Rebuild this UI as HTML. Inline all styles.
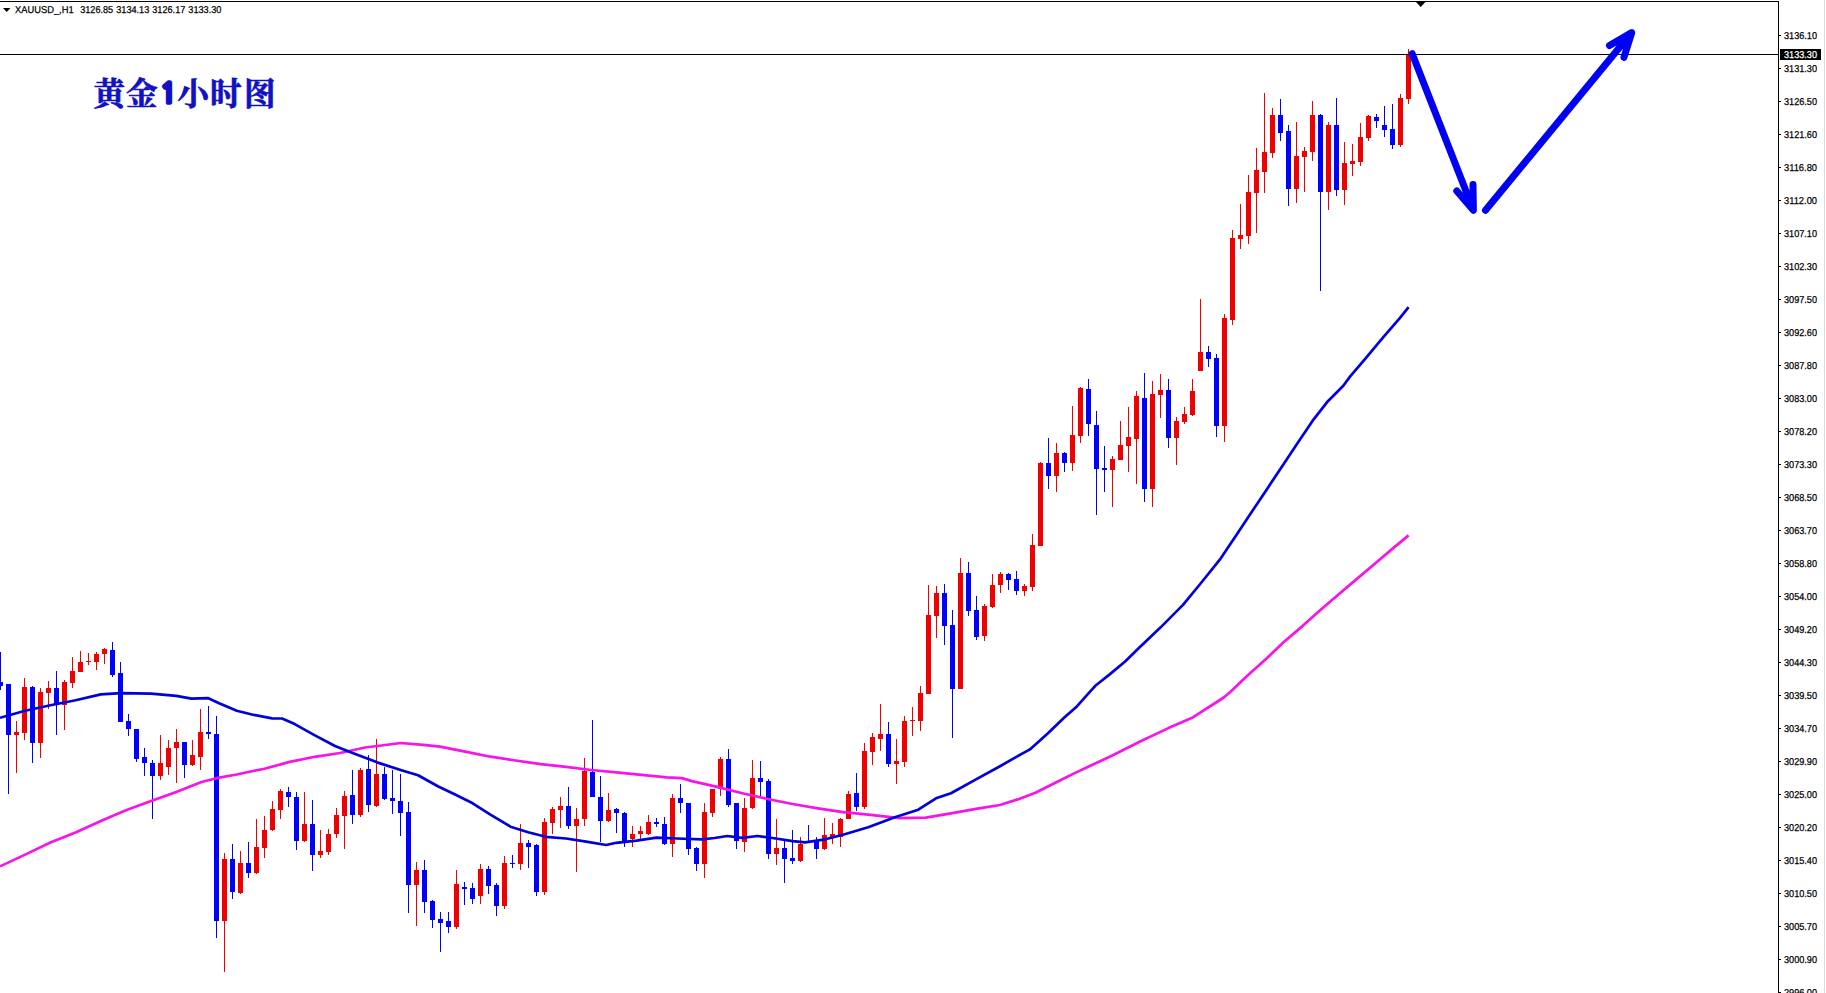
<!DOCTYPE html>
<html lang="zh"><head><meta charset="utf-8"><title>XAUUSD H1</title>
<style>html,body{margin:0;padding:0;background:#fff;overflow:hidden}svg{display:block}</style></head>
<body><svg width="1826" height="993" viewBox="0 0 1826 993">
<rect width="1826" height="993" fill="#fff"/>
<g shape-rendering="crispEdges">
<path d="M16.5 721V773M24.5 678V740M40.5 688V758M48.5 681V709M64.5 680V730M72.5 657V688M80.5 651V672M88.5 653V665M96.5 652V670M104.5 648V664M160.5 735V780M168.5 740V775M176.5 729V783M192.5 740V766M200.5 709V770M224.5 853V972M240.5 851V894M256.5 819V874M264.5 816V858M272.5 801V831M280.5 789V819M304.5 792V842M320.5 830V858M328.5 829V855M336.5 808V838M344.5 791V849M360.5 768V817M376.5 739V807M416.5 862V926M456.5 870V929M480.5 864V904M504.5 856V909M520.5 824V870M544.5 818V895M552.5 807V834M560.5 797V828M576.5 808V872M584.5 758V826M608.5 793V822M632.5 826V847M640.5 826V839M648.5 815V835M672.5 794V857M704.5 803V878M712.5 789V817M720.5 757V796M744.5 798V852M752.5 760V809M776.5 819V865M800.5 837V862M824.5 818V850M832.5 823V844M840.5 818V847M848.5 791V819M864.5 743V809M872.5 733V765M880.5 704V751M896.5 739V784M904.5 716V767M912.5 707V736M920.5 686V731M928.5 585V694M936.5 586V638M960.5 558V689M984.5 604V641M992.5 574V608M1000.5 572V593M1024.5 584V596M1032.5 534V591M1040.5 462V546M1056.5 443V492M1072.5 406V471M1080.5 387V443M1112.5 456V507M1120.5 421V460M1128.5 407V472M1136.5 391V484M1152.5 381V507M1160.5 374V418M1176.5 417V465M1184.5 407V424M1192.5 379V416M1200.5 299V371M1224.5 314V442M1232.5 230V325M1240.5 204V249M1248.5 175V244M1256.5 148V233M1264.5 93V193M1272.5 108V158M1296.5 122V203M1304.5 147V192M1312.5 101V161M1328.5 122V210M1344.5 142V205M1352.5 144V176M1360.5 123V166M1368.5 115V141M1400.5 94V147M1408.5 49V104" stroke="#f00000" stroke-width="1" fill="none"/>
<path d="M14 732h5V735h-5zM22 687h5V733h-5zM38 692h5V743h-5zM46 688h5V693h-5zM62 682h5V705h-5zM70 671h5V683h-5zM78 662h5V672h-5zM86 661h5V662h-5zM94 654h5V662h-5zM102 649h5V654h-5zM158 763h5V776h-5zM166 748h5V767h-5zM174 742h5V748h-5zM190 755h5V765h-5zM198 732h5V757h-5zM222 859h5V921h-5zM238 863h5V893h-5zM254 847h5V873h-5zM262 830h5V848h-5zM270 809h5V830h-5zM278 791h5V810h-5zM302 824h5V841h-5zM318 851h5V855h-5zM326 834h5V852h-5zM334 815h5V834h-5zM342 796h5V816h-5zM358 770h5V815h-5zM374 774h5V806h-5zM414 870h5V885h-5zM454 884h5V927h-5zM478 869h5V896h-5zM502 863h5V906h-5zM518 843h5V864h-5zM542 822h5V892h-5zM550 809h5V823h-5zM558 806h5V810h-5zM574 819h5V826h-5zM582 771h5V819h-5zM606 810h5V821h-5zM630 834h5V839h-5zM638 831h5V834h-5zM646 822h5V834h-5zM670 798h5V844h-5zM702 812h5V864h-5zM710 789h5V813h-5zM718 759h5V789h-5zM742 808h5V842h-5zM750 778h5V808h-5zM774 848h5V854h-5zM798 844h5V861h-5zM822 835h5V849h-5zM830 834h5V837h-5zM838 819h5V837h-5zM846 794h5V819h-5zM862 751h5V807h-5zM870 737h5V752h-5zM878 734h5V739h-5zM894 761h5V764h-5zM902 721h5V762h-5zM910 720h5V721h-5zM918 693h5V721h-5zM926 615h5V694h-5zM934 593h5V616h-5zM958 573h5V689h-5zM982 606h5V636h-5zM990 585h5V607h-5zM998 574h5V585h-5zM1022 586h5V591h-5zM1030 545h5V587h-5zM1038 463h5V546h-5zM1054 453h5V476h-5zM1070 435h5V463h-5zM1078 388h5V436h-5zM1110 459h5V470h-5zM1118 445h5V460h-5zM1126 437h5V446h-5zM1134 396h5V439h-5zM1150 394h5V489h-5zM1158 390h5V395h-5zM1174 421h5V438h-5zM1182 414h5V422h-5zM1190 391h5V415h-5zM1198 352h5V371h-5zM1222 318h5V426h-5zM1230 238h5V320h-5zM1238 235h5V239h-5zM1246 192h5V236h-5zM1254 170h5V193h-5zM1262 152h5V172h-5zM1270 115h5V153h-5zM1294 156h5V189h-5zM1302 151h5V157h-5zM1310 115h5V152h-5zM1326 125h5V192h-5zM1342 163h5V190h-5zM1350 161h5V164h-5zM1358 137h5V162h-5zM1366 116h5V138h-5zM1398 98h5V145h-5zM1406 54h5V99h-5z" fill="#f00000"/>
<path d="M0.5 652V690M8.5 684V794M32.5 686V763M56.5 671V735M112.5 642V677M120.5 662V722M128.5 714V736M136.5 729V762M144.5 748V776M152.5 760V819M184.5 742V778M208.5 706V739M216.5 716V938M232.5 844V899M248.5 842V878M288.5 787V807M296.5 792V850M312.5 800V871M352.5 770V824M368.5 755V812M384.5 767V800M392.5 770V814M400.5 774V836M408.5 802V913M424.5 860V913M432.5 900V928M440.5 912V952M448.5 912V933M464.5 882V905M472.5 883V904M488.5 866V894M496.5 883V916M512.5 855V868M528.5 840V868M536.5 844V896M568.5 787V829M592.5 720V797M600.5 776V842M616.5 808V833M624.5 812V847M656.5 818V827M664.5 817V845M680.5 784V813M688.5 803V855M696.5 847V871M728.5 749V807M736.5 803V849M760.5 761V796M768.5 779V859M784.5 839V883M792.5 830V864M808.5 825V843M816.5 837V859M856.5 773V811M888.5 722V767M944.5 584V645M952.5 610V738M968.5 562V616M976.5 596V640M1008.5 573V590M1016.5 571V595M1048.5 438V489M1064.5 452V472M1088.5 379V436M1096.5 411V515M1104.5 446V492M1144.5 373V502M1168.5 379V448M1208.5 346V367M1216.5 354V437M1280.5 99V141M1288.5 125V206M1320.5 114V291M1336.5 98V196M1376.5 114V128M1384.5 106V137M1392.5 104V149" stroke="#0000ff" stroke-width="1" fill="none"/>
<path d="M-2 682h5V686h-5zM6 684h5V735h-5zM30 687h5V743h-5zM54 688h5V704h-5zM110 650h5V675h-5zM118 673h5V722h-5zM126 721h5V729h-5zM134 729h5V759h-5zM142 757h5V763h-5zM150 763h5V776h-5zM182 742h5V765h-5zM206 732h5V734h-5zM214 734h5V921h-5zM230 859h5V892h-5zM246 863h5V873h-5zM286 792h5V797h-5zM294 797h5V841h-5zM310 824h5V855h-5zM350 795h5V815h-5zM366 769h5V805h-5zM382 774h5V799h-5zM390 798h5V801h-5zM398 801h5V813h-5zM406 812h5V885h-5zM422 870h5V902h-5zM430 901h5V920h-5zM438 919h5V923h-5zM446 921h5V927h-5zM462 887h5V889h-5zM470 888h5V899h-5zM486 869h5V886h-5zM494 885h5V906h-5zM510 863h5V864h-5zM526 843h5V847h-5zM534 845h5V892h-5zM566 806h5V826h-5zM590 772h5V797h-5zM598 797h5V821h-5zM614 809h5V813h-5zM622 813h5V843h-5zM654 822h5V824h-5zM662 824h5V844h-5zM678 798h5V803h-5zM686 803h5V849h-5zM694 848h5V864h-5zM726 759h5V805h-5zM734 803h5V841h-5zM758 778h5V782h-5zM766 781h5V854h-5zM782 848h5V859h-5zM790 858h5V861h-5zM806 841h5V843h-5zM814 841h5V849h-5zM854 793h5V807h-5zM886 734h5V764h-5zM942 593h5V626h-5zM950 625h5V689h-5zM966 573h5V611h-5zM974 610h5V637h-5zM1006 574h5V580h-5zM1014 579h5V591h-5zM1046 463h5V476h-5zM1062 453h5V463h-5zM1086 389h5V424h-5zM1094 425h5V469h-5zM1102 468h5V470h-5zM1142 398h5V489h-5zM1166 390h5V438h-5zM1206 352h5V359h-5zM1214 358h5V426h-5zM1278 115h5V133h-5zM1286 131h5V189h-5zM1318 115h5V192h-5zM1334 125h5V190h-5zM1374 117h5V121h-5zM1382 125h5V130h-5zM1390 129h5V145h-5z" fill="#0000ff"/>
</g>
<polyline points="0,866.4 25.2,854.6 50.4,842.5 75.6,832.4 100.8,821.1 125.9,810.2 151.1,800.9 176.3,792.1 201.5,782 216.6,778.2 236.8,774.5 264.5,768.7 289.7,761.9 314.9,756.8 340,753 365.2,747.5 385.4,745 400.5,743 423.2,744.8 440,746.6 465.2,751.6 490.4,756.7 515.6,760.5 540.8,764.2 566,766.8 591.1,770 616.3,772.3 641.5,774.8 666.7,777.3 681.8,778.1 691.9,781.1 717.1,786.9 742.3,793.2 767.5,799 792.6,804 817.8,808.3 843,812.1 868.2,814.6 900,818.2 925.8,817.7 951,813.4 976,808.9 1000,805 1017.7,799.4 1035.5,792.8 1055.4,782.8 1073.1,773.9 1090.9,765.5 1110.8,756.2 1139.6,741.8 1168.4,728.1 1192.8,717.4 1223.8,697.5 1230,692.3 1248.1,675 1266.3,658.7 1284.4,641.5 1302.5,626.1 1320.7,609.8 1338.8,594.3 1356.9,578.9 1375.1,563.5 1393.2,548.1 1408.6,535.4" fill="none" stroke="#f614e6" stroke-width="2.7" stroke-linejoin="round"/>
<polyline points="0,717.8 25.2,710.7 50.4,705.2 75.6,700.2 100.8,694.4 120.9,693.1 151.1,693.7 176.3,695.9 191.4,698.7 207.8,698.1 219.1,703.2 236.8,710.7 251.9,714.5 272,718.3 282.1,718.5 294.7,724.1 314.9,735.4 335,746 352.6,753 377.8,762.6 403,770.7 418.1,775.2 438.3,786.5 455.1,794.5 472.7,803.3 490.4,814.6 510.5,826.7 528.2,832.2 545.8,836.8 566,838.5 586.1,841.6 606.2,845 616.3,842.8 636.5,840.6 656.6,837.6 676.8,838.5 702,839.3 714.6,838 727.2,836 742.3,837.8 757.4,836 772.5,838 792.6,841.1 805.2,842.3 825.4,839.3 843,834.8 868.2,827.2 895.6,817 918.3,809.7 936,798.3 951,793.3 976,779.4 1000,766.2 1015.5,757.3 1029.9,749.4 1047.7,733.5 1064.3,717.5 1076,707.3 1088.7,693.1 1095.3,685.8 1101.3,681 1110,674.1 1125.1,661.5 1140.2,646.7 1160.4,627.6 1183,604.9 1200.6,583.5 1220.8,558.3 1235.9,535.7 1251,513 1266.1,490.4 1281.2,467.7 1298.8,441.2 1312.5,420.9 1327.9,401.2 1343.3,385.8 1350.2,376.4 1365.6,358.4 1382.7,337.9 1399.8,318.2 1408.6,307.2" fill="none" stroke="#0000dc" stroke-width="2.7" stroke-linejoin="round"/>
<g shape-rendering="crispEdges">
<path d="M1778.5 1V993M0 1.5H1779M0 54.5H1779M1779 35.5h2M1779 68.5h2M1779 101.5h2M1779 134.5h2M1779 167.5h2M1779 200.5h2M1779 233.5h2M1779 266.5h2M1779 299.5h2M1779 332.5h2M1779 365.5h2M1779 398.5h2M1779 431.5h2M1779 464.5h2M1779 497.5h2M1779 530.5h2M1779 563.5h2M1779 596.5h2M1779 629.5h2M1779 662.5h2M1779 695.5h2M1779 728.5h2M1779 761.5h2M1779 794.5h2M1779 827.5h2M1779 860.5h2M1779 893.5h2M1779 926.5h2M1779 959.5h2M1779 992.5h2" stroke="#000" stroke-width="1" fill="none"/>
<path d="M1824.5 0V993" stroke="#dcdcdc" stroke-width="1"/>
</g>
<g font-family="Liberation Sans, sans-serif" font-size="10" text-rendering="geometricPrecision" fill="#000" stroke="#000" stroke-width="0.25">
<text x="1784" y="38.9" textLength="33" lengthAdjust="spacingAndGlyphs">3136.10</text>
<text x="1784" y="71.9" textLength="33" lengthAdjust="spacingAndGlyphs">3131.30</text>
<text x="1784" y="104.9" textLength="33" lengthAdjust="spacingAndGlyphs">3126.50</text>
<text x="1784" y="137.9" textLength="33" lengthAdjust="spacingAndGlyphs">3121.60</text>
<text x="1784" y="170.9" textLength="33" lengthAdjust="spacingAndGlyphs">3116.80</text>
<text x="1784" y="203.9" textLength="33" lengthAdjust="spacingAndGlyphs">3112.00</text>
<text x="1784" y="236.9" textLength="33" lengthAdjust="spacingAndGlyphs">3107.10</text>
<text x="1784" y="269.9" textLength="33" lengthAdjust="spacingAndGlyphs">3102.30</text>
<text x="1784" y="302.9" textLength="33" lengthAdjust="spacingAndGlyphs">3097.50</text>
<text x="1784" y="335.9" textLength="33" lengthAdjust="spacingAndGlyphs">3092.60</text>
<text x="1784" y="368.9" textLength="33" lengthAdjust="spacingAndGlyphs">3087.80</text>
<text x="1784" y="401.9" textLength="33" lengthAdjust="spacingAndGlyphs">3083.00</text>
<text x="1784" y="434.9" textLength="33" lengthAdjust="spacingAndGlyphs">3078.20</text>
<text x="1784" y="467.9" textLength="33" lengthAdjust="spacingAndGlyphs">3073.30</text>
<text x="1784" y="500.9" textLength="33" lengthAdjust="spacingAndGlyphs">3068.50</text>
<text x="1784" y="533.9" textLength="33" lengthAdjust="spacingAndGlyphs">3063.70</text>
<text x="1784" y="566.9" textLength="33" lengthAdjust="spacingAndGlyphs">3058.80</text>
<text x="1784" y="599.9" textLength="33" lengthAdjust="spacingAndGlyphs">3054.00</text>
<text x="1784" y="632.9" textLength="33" lengthAdjust="spacingAndGlyphs">3049.20</text>
<text x="1784" y="665.9" textLength="33" lengthAdjust="spacingAndGlyphs">3044.30</text>
<text x="1784" y="698.9" textLength="33" lengthAdjust="spacingAndGlyphs">3039.50</text>
<text x="1784" y="731.9" textLength="33" lengthAdjust="spacingAndGlyphs">3034.70</text>
<text x="1784" y="764.9" textLength="33" lengthAdjust="spacingAndGlyphs">3029.90</text>
<text x="1784" y="797.9" textLength="33" lengthAdjust="spacingAndGlyphs">3025.00</text>
<text x="1784" y="830.9" textLength="33" lengthAdjust="spacingAndGlyphs">3020.20</text>
<text x="1784" y="863.9" textLength="33" lengthAdjust="spacingAndGlyphs">3015.40</text>
<text x="1784" y="896.9" textLength="33" lengthAdjust="spacingAndGlyphs">3010.50</text>
<text x="1784" y="929.9" textLength="33" lengthAdjust="spacingAndGlyphs">3005.70</text>
<text x="1784" y="962.9" textLength="33" lengthAdjust="spacingAndGlyphs">3000.90</text>
<text x="1784" y="995.9" textLength="33" lengthAdjust="spacingAndGlyphs">2996.00</text>
</g>
<rect x="1780" y="49" width="41" height="11" fill="#000"/>
<text x="1784" y="57.9" font-family="Liberation Sans, sans-serif" font-size="10" text-rendering="geometricPrecision" fill="#fff" stroke="#fff" stroke-width="0.25" textLength="33" lengthAdjust="spacingAndGlyphs">3133.30</text>
<path d="M3 8h7.4l-3.7 4z" fill="#000"/>
<path d="M1416 2h9.4l-4.7 5z" fill="#000"/>
<g font-family="Liberation Sans, sans-serif" font-size="10" text-rendering="geometricPrecision" fill="#000" stroke="#000" stroke-width="0.25">
<text x="15" y="13.2" textLength="58.6" lengthAdjust="spacingAndGlyphs">XAUUSD_,H1</text>
<text x="80.2" y="13.2" textLength="33" lengthAdjust="spacingAndGlyphs">3126.85</text>
<text x="116.25" y="13.2" textLength="33" lengthAdjust="spacingAndGlyphs">3134.13</text>
<text x="152.3" y="13.2" textLength="33" lengthAdjust="spacingAndGlyphs">3126.17</text>
<text x="188.35" y="13.2" textLength="33" lengthAdjust="spacingAndGlyphs">3133.30</text>
</g>
<text x="93.5 126 160 177.5 210 244" y="105 105 103.4 105 105 105" font-family="Noto Serif CJK SC, serif" font-weight="bold" font-size="31.5" fill="#1010c4" stroke="#1010c4" stroke-width="0.7">黄金<tspan font-family="NanumGothic, Liberation Sans, sans-serif" font-size="27.5" stroke-width="3.3" stroke-linejoin="miter">1</tspan>小时图</text>
<g stroke="#0000f4" stroke-width="7" stroke-linecap="round" stroke-linejoin="round" fill="none">
<path d="M1412.2 53.7L1473.2 209.5M1456.8 191L1473.4 210.3L1473 184.6"/>
<path d="M1485.5 210.3L1631 33.5M1609.5 45.6L1631.7 32.6L1624 57.3"/>
</g>
</svg></body></html>
